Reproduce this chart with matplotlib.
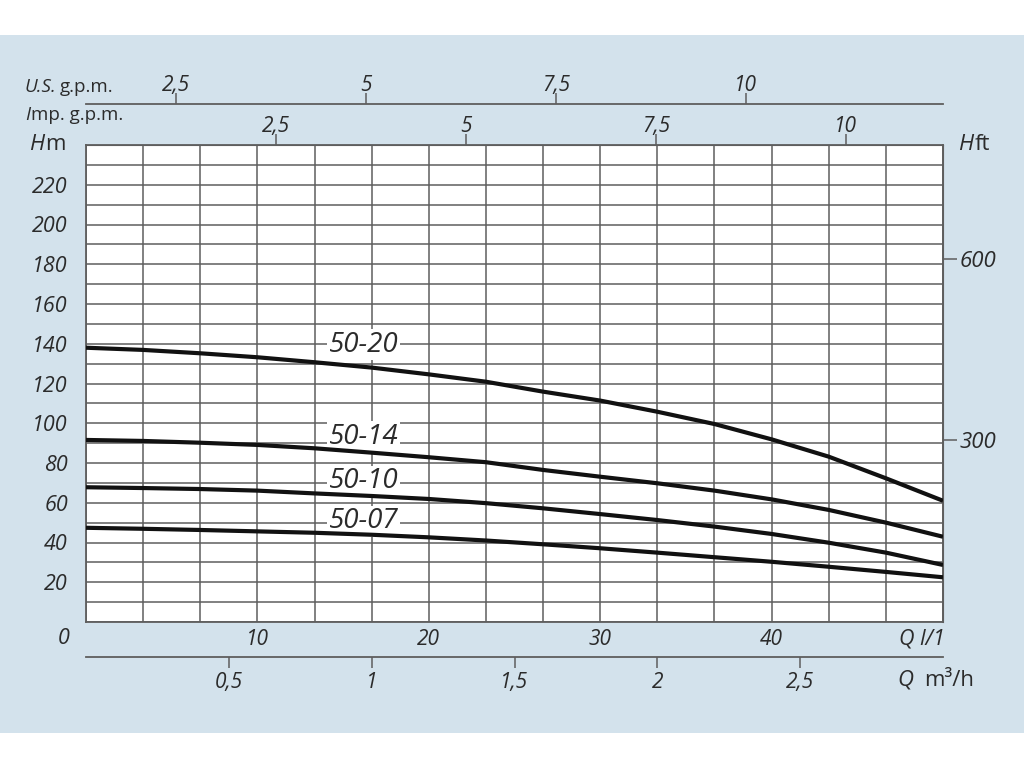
import numpy as np
import matplotlib
matplotlib.use("Agg")
import matplotlib.pyplot as plt
from matplotlib.patches import Rectangle

plt.rcParams['font.family'] = ['Open Sans', 'DejaVu Sans']
plt.rcParams['font.style'] = 'italic'

# ---- data ----
q_lmin = [0, 3.33, 6.67, 10, 13.33, 16.67, 20, 23.33, 26.67, 30, 33.33, 36.67, 40, 43.33, 46.67, 50]
h_5020 = [138.0, 136.9, 135.2, 133.2, 130.7, 128.0, 124.6, 120.9, 115.9, 111.4, 105.8, 99.6, 91.9, 83.2, 72.3, 61.0]
h_5014 = [91.6, 91.1, 90.2, 89.1, 87.4, 85.2, 82.9, 80.4, 76.5, 73.1, 69.8, 66.1, 61.7, 56.4, 50.0, 42.9]
h_5010 = [67.8, 67.4, 66.9, 66.1, 64.7, 63.4, 61.9, 59.8, 57.2, 54.3, 51.3, 48.0, 44.3, 39.9, 34.9, 28.7]
h_5007 = [47.4, 46.9, 46.3, 45.6, 44.9, 43.9, 42.6, 41.0, 39.1, 37.1, 34.9, 32.6, 30.3, 27.8, 25.2, 22.5]
curve_names = ['50-20', '50-14', '50-10', '50-07']
label_pos = [(16.2, 139.6), (16.2, 93.2), (16.2, 70.8), (16.2, 50.7)]

y_ticks = [20, 40, 60, 80, 100, 120, 140, 160, 180, 200, 220]
x_ticks = [10, 20, 30, 40]
m3h_ticks = [0.5, 1, 1.5, 2, 2.5]
m3h_labels = ['0,5', '1', '1,5', '2', '2,5']
gpm_ticks = [2.5, 5, 7.5, 10]
gpm_labels = ['2,5', '5', '7,5', '10']
ft_ticks = [300, 600]

BLUE = '#d3e2ec'
TXT = '#2b2b2b'
GRID = '#5e5e5e'

W, H = 1024, 768
fig = plt.figure(figsize=(W / 100, H / 100), dpi=100, facecolor='white')
fig.patches.append(Rectangle((0, 1 - 733 / H), 1, (733 - 35) / H, transform=fig.transFigure,
                             facecolor=BLUE, edgecolor='none', zorder=-10))

L, R, T, B = 86, 943, 145, 622
ax = fig.add_axes([L / W, 1 - B / H, (R - L) / W, (B - T) / H])
ax.set_facecolor('white')
ax.set_xlim(0, 50)
ax.set_ylim(0, 240)

# grid
ax.set_xticks(np.arange(0, 50.01, 10 / 3), minor=True)
ax.set_yticks(np.arange(0, 240.1, 10), minor=True)
ax.set_yticks(y_ticks)
ax.set_yticklabels([str(v) for v in y_ticks])
ax.set_xticks(x_ticks)
ax.set_xticklabels([str(v) for v in x_ticks])
ax.grid(True, which='both', color=GRID, lw=1.1, zorder=1)
ax.set_axisbelow(True)
ax.tick_params(which='minor', length=0)
for s in ax.spines.values():
    s.set_color(GRID)
    s.set_linewidth(1.3)

ax.tick_params(axis='y', which='major', length=0, pad=13, labelsize=15.5, labelcolor=TXT)
ax.tick_params(axis='x', which='major', length=0, pad=5, labelsize=15, labelcolor=TXT)

# curves
for h in [h_5020, h_5014, h_5010, h_5007]:
    ax.plot(q_lmin, h, color='#111111', lw=3.0, zorder=3, solid_capstyle='butt')
for name, (xq, yh) in zip(curve_names, label_pos):
    ax.text(xq, yh, name, fontsize=20, color=TXT, ha='center', va='center', zorder=2.5,
            bbox=dict(facecolor='white', edgecolor='none', pad=1.0))

# m3/h axis
sec_m3 = ax.secondary_xaxis(-35 / 477, functions=(lambda q: q * 0.06, lambda m: m / 0.06))
sec_m3.set_xticks(m3h_ticks)
sec_m3.set_xticklabels(m3h_labels)
sec_m3.tick_params(direction='out', length=8, width=1.1, color=GRID, pad=3, labelsize=15, labelcolor=TXT)
sec_m3.spines['bottom'].set_color(GRID)
sec_m3.spines['bottom'].set_linewidth(1.3)

# Imp gpm axis (top)
k = 4.433
sec_imp = ax.secondary_xaxis('top', functions=(lambda q: q / k, lambda g: g * k))
sec_imp.set_xticks(gpm_ticks)
sec_imp.set_xticklabels(gpm_labels)
sec_imp.tick_params(direction='out', length=8, width=1.1, color=GRID, pad=-2, labelsize=15, labelcolor=TXT)
sec_imp.spines['top'].set_color(GRID)

# US gpm axis
sec_us = ax.secondary_xaxis((B - 104) / (B - T), functions=(lambda q: (q + 5.83) / k, lambda g: g * k - 5.83))
sec_us.set_xticks(gpm_ticks)
sec_us.set_xticklabels(gpm_labels)
sec_us.tick_params(direction='out', length=8, width=1.1, color=GRID, pad=-2, labelsize=15, labelcolor=TXT)
sec_us.spines['top'].set_color(GRID)
sec_us.spines['top'].set_linewidth(1.3)

# Hft axis (right)
sec_ft = ax.secondary_yaxis('right', functions=(lambda m: m / 0.3048, lambda f: f * 0.3048))
sec_ft.set_yticks(ft_ticks)
sec_ft.set_yticklabels([str(v) for v in ft_ticks])
sec_ft.tick_params(direction='out', length=10, width=1.1, color=GRID, pad=2, labelsize=16, labelcolor=TXT)
sec_ft.spines['right'].set_color(GRID)

def ftxt(x, y, s, style='italic', size=13, ha='left'):
    fig.text(x / W, 1 - y / H, s, fontsize=size, fontstyle=style, color=TXT, ha=ha, va='center')

ftxt(25, 87, 'U.S.', size=13.5)
ftxt(60, 87, 'g.p.m.', style='normal', size=13.5)
ftxt(25, 115, 'I', size=13.5)
ftxt(31, 115, 'mp. g.p.m.', style='normal', size=13.5)
ftxt(29, 145, 'H', size=16)
ftxt(45, 145, 'm', size=16, style='normal')
ftxt(958, 145, 'H', size=16)
ftxt(975, 145, 'ft', size=16, style='normal')
ftxt(70, 639, '0', size=15.5, ha='right')
ftxt(945, 639, 'Q l/1', size=15.5, ha='right')
ftxt(897, 680, 'Q', size=16)
ftxt(924, 680, 'm\u00b3/h', size=16, style='normal')

fig.savefig('out.png', dpi=100, facecolor='white')
